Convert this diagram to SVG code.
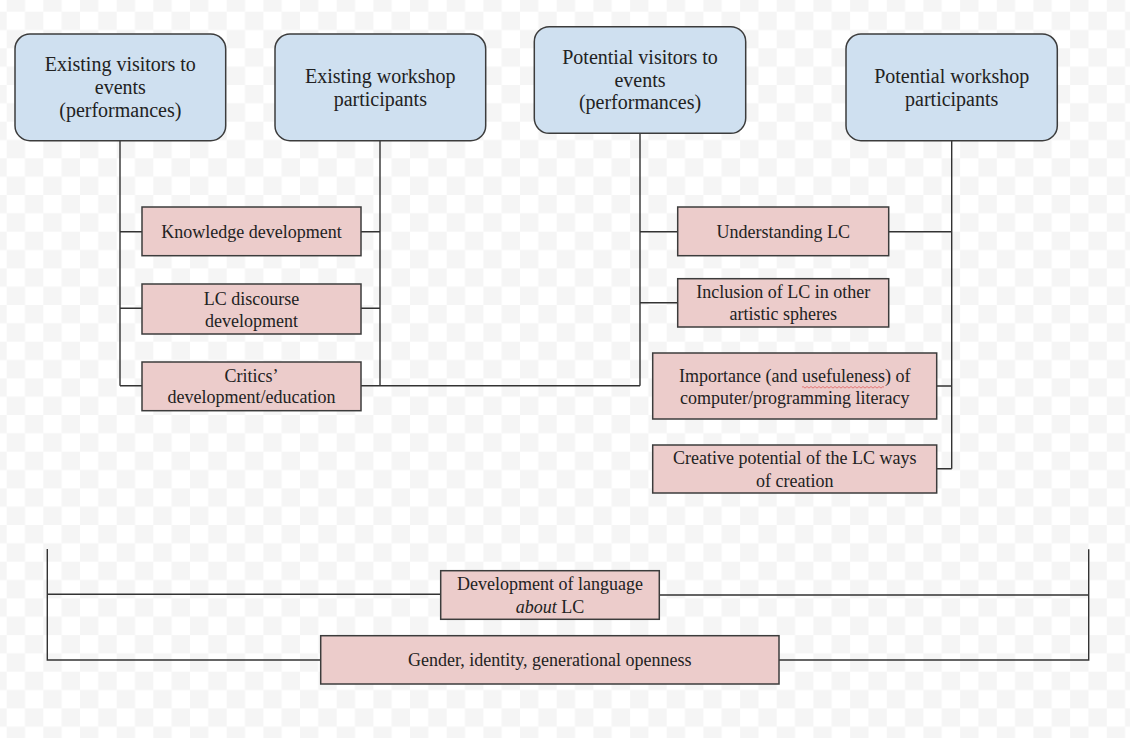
<svg xmlns="http://www.w3.org/2000/svg" width="1130" height="738" viewBox="0 0 1130 738">
<defs>
<pattern id="chk" patternUnits="userSpaceOnUse" x="6.67" y="11.67" width="36.67" height="36.67">
<rect width="36.67" height="36.67" fill="#ffffff"/>
<rect x="18.33" y="0" width="18.34" height="18.33" fill="#f5f5f5"/>
<rect x="0" y="18.33" width="18.33" height="18.34" fill="#f5f5f5"/>
</pattern>
<style>
.blue{fill:#cfe0f0;stroke:#3c3c3c;stroke-width:1.5}
.pink{fill:#eccccb;stroke:#3c3c3c;stroke-width:1.5}
.bt{font-family:"Liberation Serif","Times New Roman",serif;font-size:20px;fill:#222;text-anchor:middle}
.pt{font-family:"Liberation Serif","Times New Roman",serif;font-size:18px;fill:#222;text-anchor:middle}
.ln{fill:none;stroke:#333;stroke-width:1.4}
</style>
</defs>
<rect width="1130" height="738" fill="url(#chk)"/>

<g id="connectors">
<path class="ln" d="M120,140.7 V385.7 M120,231.7 H142 M120,308.3 H142 M120,385.7 H142"/>
<path class="ln" d="M380,140.7 V385.7 M361,231.7 H380 M361,308.3 H380 M361,385.7 H640"/>
<path class="ln" d="M640,133.3 V385.7 M640,231.7 H677.7 M640,302.7 H677.7"/>
<path class="ln" d="M951.7,140.7 V468.7 M888.7,231.7 H951.7 M936.7,386 H951.7 M936.7,468.7 H951.7"/>
<path class="ln" d="M47.3,549 V660 H320.7 M47.3,594.3 H440.7"/>
<path class="ln" d="M1088.7,549.3 V660 H779 M659.3,595 H1088.7"/>
</g>

<g id="n-existing-visitors">
<rect class="blue" x="15" y="34" width="210.7" height="106.7" rx="15"/>
<text class="bt" x="120.3" y="70.7">Existing visitors to</text>
<text class="bt" x="120.3" y="94">events</text>
<text class="bt" x="120.3" y="116.7">(performances)</text>
</g>
<g id="n-existing-workshop">
<rect class="blue" x="275" y="34" width="210.7" height="106.7" rx="15"/>
<text class="bt" x="380.3" y="83.3">Existing workshop</text>
<text class="bt" x="380.3" y="106">participants</text>
</g>
<g id="n-potential-visitors">
<rect class="blue" x="534.3" y="26.7" width="211.4" height="106.6" rx="15"/>
<text class="bt" x="640" y="64">Potential visitors to</text>
<text class="bt" x="640" y="86.7">events</text>
<text class="bt" x="640" y="109.3">(performances)</text>
</g>
<g id="n-potential-workshop">
<rect class="blue" x="846" y="34" width="211.3" height="106.7" rx="15"/>
<text class="bt" x="951.7" y="83.3">Potential workshop</text>
<text class="bt" x="951.7" y="106">participants</text>
</g>

<g id="n-knowledge">
<rect class="pink" x="142" y="207" width="219" height="48.7"/>
<text class="pt" x="251.5" y="238.3">Knowledge development</text>
</g>
<g id="n-discourse">
<rect class="pink" x="142" y="284" width="219" height="50"/>
<text class="pt" x="251.5" y="304.5">LC discourse</text>
<text class="pt" x="251.5" y="327">development</text>
</g>
<g id="n-critics">
<rect class="pink" x="142" y="362" width="219" height="48.7"/>
<text class="pt" x="251.5" y="382.3">Critics’</text>
<text class="pt" x="251.5" y="403.3">development/education</text>
</g>

<g id="n-understanding">
<rect class="pink" x="677.7" y="207" width="211" height="48.7"/>
<text class="pt" x="783.2" y="238.3">Understanding LC</text>
</g>
<g id="n-inclusion">
<rect class="pink" x="677.7" y="278.7" width="211" height="48.3"/>
<text class="pt" x="783.2" y="298.3">Inclusion of LC in other</text>
<text class="pt" x="783.2" y="320">artistic spheres</text>
</g>
<g id="n-importance">
<rect class="pink" x="652.7" y="353" width="284" height="66"/>
<text class="pt" x="794.7" y="381.7">Importance (and usefuleness) of</text>
<text class="pt" x="794.7" y="404">computer/programming literacy</text>
<path d="M802,387.3 q1,-1.6 2,0 t2,0 t2,0 t2,0 t2,0 t2,0 t2,0 t2,0 t2,0 t2,0 t2,0 t2,0 t2,0 t2,0 t2,0 t2,0 t2,0 t2,0 t2,0 t2,0 t2,0 t2,0 t2,0 t2,0 t2,0 t2,0 t2,0 t2,0 t2,0 t2,0 t2,0 t2,0 t2,0 t2,0 t2,0 t2,0 t2,0 t2,0 t2,0 t2,0 t2,0" fill="none" stroke="#e06060" stroke-width="0.8"/>
</g>
<g id="n-creative">
<rect class="pink" x="652.7" y="445" width="284" height="48"/>
<text class="pt" x="794.7" y="464">Creative potential of the LC ways</text>
<text class="pt" x="794.7" y="486.7">of creation</text>
</g>

<g id="n-language">
<rect class="pink" x="440.7" y="570.7" width="218.6" height="48.6"/>
<text class="pt" x="550" y="590">Development of language</text>
<text class="pt" x="550" y="612.7"><tspan font-style="italic">about</tspan> LC</text>
</g>
<g id="n-gender">
<rect class="pink" x="320.7" y="635.7" width="458.3" height="48.3"/>
<text class="pt" x="549.8" y="666">Gender, identity, generational openness</text>
</g>
</svg>
